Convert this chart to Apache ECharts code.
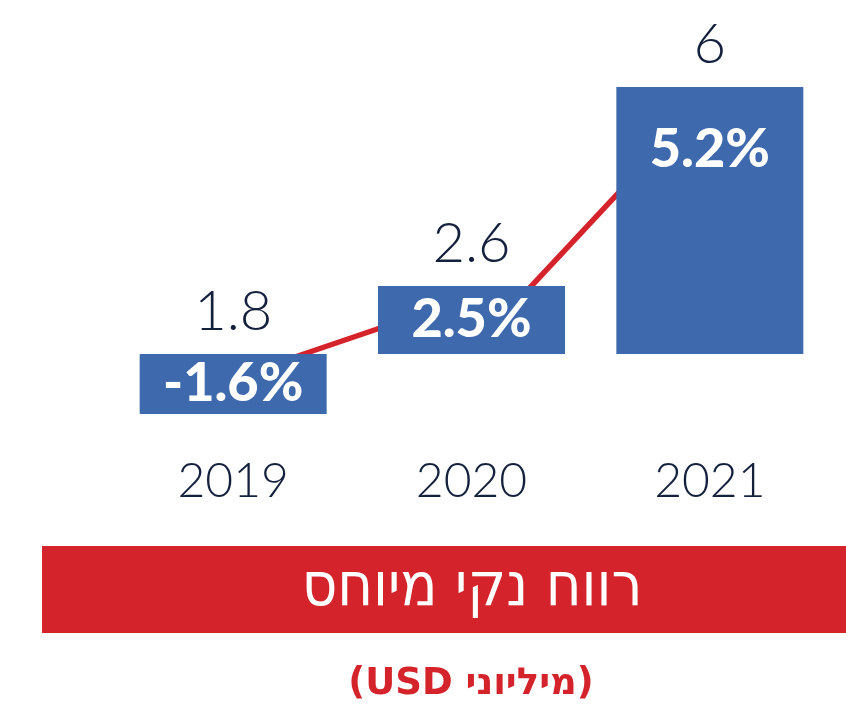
<!DOCTYPE html>
<html>
<head>
<meta charset="utf-8">
<script src="https://cdn.jsdelivr.net/npm/echarts@6/dist/echarts.min.js"></script>
<style>
html,body{margin:0;padding:0;background:#fff;}
#chartmain{width:846px;height:704px;}
</style>
</head>
<body>
<div id="chartmain"></div>
<script>
var years = ['2019', '2020', '2021'];
var netProfit = [1.8, 2.6, 6];
var growth = [-1.6, 2.5, 5.2];
// bar heights as drawn in the picture (not to scale)
var barValues = [-2, 2.27, 8.9];
// red trend line behind the bars, two pieces
var trendA = [-0.8, 1.9, '-'];
var trendB = ['-', 0.13, 8.63];

var navy = '#14213d';
var blue = '#3e69ad';
var red = '#d4232b';

var myChart = echarts.init(document.getElementById('chartmain'));

var option = {
    animation: false,
    grid: {left: 114, right: 17, top: 54, bottom: 260},
    xAxis: {
        type: 'category',
        data: years,
        axisLine: {show: false, onZero: false},
        axisTick: {show: false},
        axisLabel: {
            margin: 14,
            color: navy,
            fontFamily: 'Lato',
            fontWeight: 300,
            fontSize: 48
        }
    },
    yAxis: {
        type: 'value',
        min: -3,
        max: 10,
        show: false
    },
    series: [
        {
            name: 'trendA',
            type: 'line',
            data: trendA,
            z: 1,
            symbol: 'none',
            lineStyle: {color: red, width: 5.5}
        },
        {
            name: 'trendB',
            type: 'line',
            data: trendB,
            z: 1,
            symbol: 'none',
            lineStyle: {color: red, width: 5.5}
        },
        {
            name: 'growth',
            type: 'bar',
            z: 3,
            barWidth: 187,
            barGap: '-100%',
            itemStyle: {color: blue},
            data: barValues.map(function (v, i) {
                var item = {value: v};
                if (i == 2) {
                    item.label = {position: 'insideTop', distance: 36};
                }
                return item;
            }),
            label: {
                show: true,
                position: 'inside',
                color: '#fff',
                fontFamily: 'Lato',
                fontWeight: 900,
                fontSize: 54,
                formatter: function (p) {
                    return growth[p.dataIndex] + '%';
                }
            }
        },
        {
            name: 'profit',
            type: 'bar',
            z: 3,
            barWidth: 187,
            barGap: '-100%',
            itemStyle: {color: 'rgba(0,0,0,0)'},
            data: barValues,
            label: {
                show: true,
                position: 'top',
                distance: 14,
                color: navy,
                fontFamily: 'Lato',
                fontWeight: 300,
                fontSize: 56,
                formatter: function (p) {
                    return netProfit[p.dataIndex];
                }
            }
        }
    ],
    graphic: [
        {
            type: 'rect',
            left: 42,
            top: 546,
            shape: {width: 804, height: 87},
            style: {fill: red}
        },
        {
            type: 'text',
            x: 472,
            y: 589,
            style: {
                text: '\u202Bרווח נקי מיוחס\u202C',
                align: 'center',
                verticalAlign: 'middle',
                fill: '#fff',
                fontFamily: '"Liberation Sans Narrow", "DejaVu Sans Condensed", sans-serif',
                fontSize: 61
            }
        },
        {
            type: 'text',
            x: 471,
            y: 684,
            style: {
                text: '\u202B(מיליוני USD)\u202C',
                align: 'center',
                verticalAlign: 'middle',
                fill: red,
                fontFamily: '"DejaVu Sans", sans-serif',
                fontWeight: 'bold',
                fontSize: 37
            }
        }
    ]
};

myChart.setOption(option);
</script>
</body>
</html>
